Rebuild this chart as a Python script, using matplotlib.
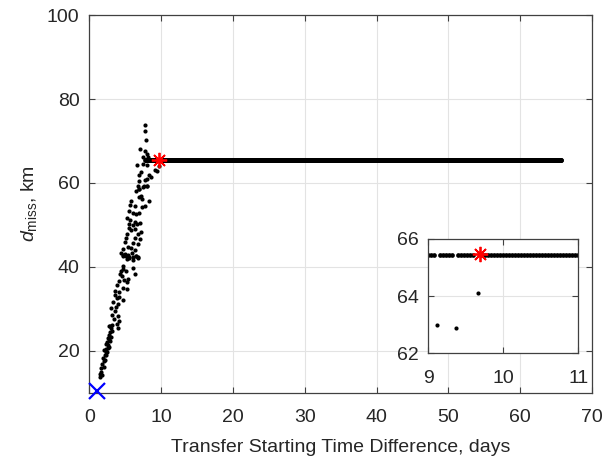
import numpy as np
import matplotlib.pyplot as plt

plt.rcParams['font.family'] = ['Liberation Sans', 'DejaVu Sans']
plt.rcParams['mathtext.fontset'] = 'custom'
plt.rcParams['mathtext.rm'] = 'Liberation Sans'
plt.rcParams['mathtext.it'] = 'Liberation Sans:italic'

# colors
axis_color = '#404040'
text_color = '#262626'
grid_color = '#e3e3e3'
dot_color = 'black'

# scattered miss distances before the plateau (days, km)
cloud_x = [1.53, 1.44, 1.62, 1.71, 1.81, 1.99, 1.90, 2.18, 2.27, 2.36, 2.55, 2.64, 2.45, 2.73, 2.55,
           2.82, 2.92, 3.01, 2.82, 3.19,
           1.75, 2.00, 2.20, 2.40, 2.50, 2.10, 2.30, 2.75, 2.90, 3.10, 3.20,
           4.68, 5.14, 5.60, 6.06, 6.53, 6.80, 4.68, 4.77, 4.40, 5.14, 6.06, 6.34, 4.31, 4.58, 5.42,
           4.21, 4.86, 5.23, 3.84, 4.68, 5.32, 3.66, 4.12, 3.56, 4.21, 3.84, 4.77, 3.29, 4.03, 3.01,
           3.75, 3.56, 3.19, 3.94, 3.47, 4.12, 3.84, 2.92, 4.03,
           6.53, 6.99, 7.45, 8.00, 7.18, 6.90, 7.36, 8.38, 5.88, 5.69, 6.44, 7.36, 7.73, 5.51, 6.06,
           6.53, 6.99, 5.32, 5.69, 6.44, 5.60, 6.06, 6.62, 7.08, 5.51, 5.79, 6.34, 5.23, 6.80, 7.18,
           5.14, 6.34, 7.08, 5.05, 6.06, 6.80, 5.42, 4.77, 5.79, 6.44, 4.49, 5.05, 5.42, 5.97, 6.53,
           4.77, 5.60, 6.80, 5.23, 6.16,
           7.82, 7.73, 7.92, 7.08, 7.73, 8.00, 7.55, 8.18, 6.62, 7.45, 8.10, 7.18, 9.12, 9.37, 8.29,
           8.66, 6.99, 6.90, 7.73, 8.10, 6.80, 7.64, 8.00, 6.99, 9.66]
cloud_y = [13.7, 14.4, 15.0, 15.9, 16.9, 17.5, 18.3, 19.0, 19.8, 20.5, 20.7, 21.3, 22.1, 22.7, 23.1,
           23.7, 24.5, 25.3, 25.9, 26.1,
           14.2, 16.2, 17.8, 18.9, 19.6, 20.2, 21.6, 21.0, 22.2, 23.3, 24.8,
           42.9, 42.6, 42.3, 42.4, 42.6, 42.1, 40.2, 39.4, 39.0, 39.1, 39.8, 38.3, 38.2, 37.7, 37.2,
           36.6, 36.9, 36.3, 35.6, 35.0, 34.7, 34.2, 34.0, 33.2, 32.8, 32.5, 32.0, 31.7, 31.2, 30.2,
           30.5, 29.4, 28.6, 28.3, 27.5, 27.1, 26.3, 25.9, 25.3,
           58.2, 58.6, 59.0, 59.3, 56.9, 56.6, 56.3, 55.8, 55.6, 54.8, 54.4, 54.2, 54.5, 53.4, 52.8,
           52.6, 52.8, 51.7, 51.2, 50.7, 50.1, 49.9, 50.2, 50.4, 49.3, 48.8, 49.0, 47.9, 47.9, 48.2,
           46.9, 46.9, 46.7, 45.9, 45.6, 45.5, 44.8, 44.2, 44.4, 44.0, 43.3, 43.1, 42.9, 43.3, 42.6,
           42.5, 42.1, 42.3, 41.8, 41.7,
           73.9, 72.4, 70.2, 68.2, 67.7, 67.0, 66.1, 66.3, 64.2, 64.5, 64.3, 62.6, 63.0, 62.9, 61.8,
           61.5, 62.0, 60.5, 60.7, 61.0, 59.4, 59.3, 59.4, 58.5, 64.1]

# plateau: constant miss distance over the sampled time grid
plateau_start = 7.8
plateau_end = 65.7
plateau_step = 0.04
plateau_value = 65.45
plateau_gaps = [9.12, 9.37, 9.66]

start_point = (1.15, 10.5)
optimum_point = (9.69, 65.47)

plateau_x = np.arange(plateau_start, plateau_end, plateau_step)
keep = np.ones(len(plateau_x), dtype=bool)
for g in plateau_gaps:
    keep &= np.abs(plateau_x - g) > 0.025
plateau_x = plateau_x[keep]
plateau_y = np.full(len(plateau_x), plateau_value)


def style_axes(ax):
    ax.tick_params(direction='in', top=True, right=True, length=4, width=0.8,
                   colors=axis_color, labelcolor=text_color, labelsize=14)
    ax.tick_params(axis='x', pad=12)
    ax.tick_params(axis='y', pad=7)
    for s in ax.spines.values():
        s.set_color(axis_color)
        s.set_linewidth(0.9)
    ax.grid(True, color=grid_color, linewidth=0.8)
    ax.set_axisbelow(True)


def draw_data(ax):
    ax.plot(plateau_x, plateau_y, 'o', color=dot_color, ms=3.4, mew=0)
    ax.plot(cloud_x, cloud_y, 'o', color=dot_color, ms=3.0, mew=0)
    ax.plot(*optimum_point, marker=(8, 2, 0), color='red', ms=11, mew=1.3, zorder=5)


fig = plt.figure(figsize=(6.11, 4.63), dpi=100)
ax = fig.add_axes([0.146, 0.152, 0.823, 0.815])
draw_data(ax)
ax.plot(*start_point, 'x', color='blue', ms=11, mew=1.6, clip_on=False, zorder=6)
ax.set_xlim(0, 70)
ax.set_ylim(10, 100)
ax.set_xticks(range(0, 71, 10))
ax.set_yticks(range(20, 101, 20))
style_axes(ax)
ax.set_xlabel('Transfer Starting Time Difference, days', fontsize=14, color=text_color,
              labelpad=9)
ax.set_ylabel(r'$d_{\rm miss}$, km', fontsize=14, color=text_color, labelpad=6)

# inset zoom on the plateau start
axin = fig.add_axes([0.701, 0.237, 0.2455, 0.247])
draw_data(axin)
axin.set_xlim(9, 11)
axin.set_ylim(62, 66)
axin.set_xticks([9, 10, 11])
axin.set_yticks([62, 64, 66])
style_axes(axin)

fig.savefig('out.png', dpi=100)
